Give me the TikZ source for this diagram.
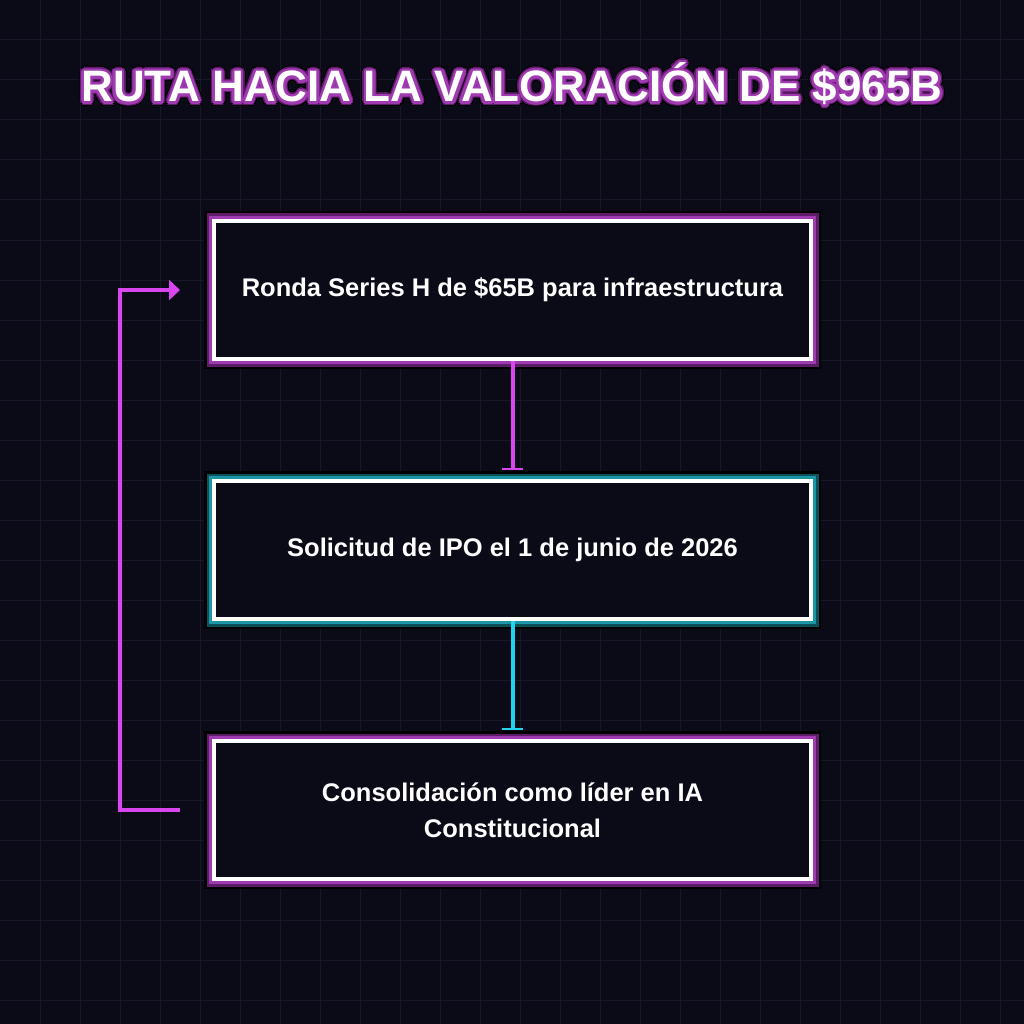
\documentclass[tikz,border=0pt]{standalone}
\usepackage{fontspec}
\setmainfont{Liberation Sans}
\usetikzlibrary{arrows.meta,positioning}
\definecolor{fondo}{RGB}{11,11,24}
\definecolor{rejilla}{RGB}{24,24,42}
\definecolor{rosa}{RGB}{217,70,239}
\definecolor{morado}{RGB}{160,58,176}
\definecolor{moradoosc}{RGB}{92,28,104}
\definecolor{cian}{RGB}{34,211,238}
\definecolor{turquesa}{RGB}{26,150,166}
\definecolor{turquesaosc}{RGB}{14,80,90}

\tikzset{
  etapa/.style={minimum width=597pt, minimum height=138pt, fill=fondo,
    draw=white, line width=4pt, text=white, align=center,
    font=\bfseries\fontsize{25.5}{36}\selectfont,
    preaction={draw=black, line width=20pt},
    preaction={draw=moradoosc, line width=15pt},
    preaction={draw=morado, line width=10pt}},
  etapacian/.style={etapa,
    preaction={draw=black, line width=20pt},
    preaction={draw=turquesaosc, line width=15pt},
    preaction={draw=turquesa, line width=10pt}},
  titulo/.style={font=\bfseries\fontsize{44}{52}\selectfont}
}

\begin{document}
\begin{tikzpicture}[x=1pt,y=-1pt]
\fill[fondo] (0,0) rectangle (1024,1024);
\useasboundingbox (0,0) rectangle (1024,1024);
\foreach \k in {40,80,...,1000} {
  \draw[rejilla, line width=1pt] (\k,0) -- (\k,1024);
  \draw[rejilla, line width=1pt] (0,\k) -- (1024,\k);
}

% titulo con brillo
\foreach \a in {0,30,...,330} {
  \node[titulo, text=black, shift={(\a:5)}] at (512,84) {RUTA HACIA LA VALORACIÓN DE \$965B};
}
\foreach \a in {0,30,...,330} {
  \node[titulo, text=moradoosc, shift={(\a:4)}] at (512,84) {RUTA HACIA LA VALORACIÓN DE \$965B};
}
\foreach \a in {0,30,...,330} {
  \node[titulo, text=morado, shift={(\a:2.5)}] at (512,84) {RUTA HACIA LA VALORACIÓN DE \$965B};
}
\node[titulo, text=white] (titulo) at (512,84) {RUTA HACIA LA VALORACIÓN DE \$965B};

% etapas
\node[etapa] (ronda) at (512.5,290) {Ronda Series H de \$65B para infraestructura};
\node[etapacian] (ipo) at (512.5,550) {Solicitud de IPO el 1 de junio de 2026};
\node[etapa] (lider) at (512.5,810) {Consolidación como líder en IA\\Constitucional};

\draw[rosa, line width=4pt, -{Rectangle[length=2.5pt,width=21pt]}, shorten >=9pt] (ronda.south) -- (ipo.north);
\draw[cian, line width=4pt, -{Rectangle[length=2.5pt,width=21pt]}, shorten >=9pt] (ipo.south) -- (lider.north);

% vuelta
\coordinate (retIni) at ([xshift=-32pt]lider.west);
\coordinate (retFin) at ([xshift=-32pt]ronda.west);
\draw[rosa, line width=4pt, -{Triangle[length=11pt,width=20pt]}] (retIni) -- ++(-60,0) |- (retFin);

\end{tikzpicture}
\end{document}
